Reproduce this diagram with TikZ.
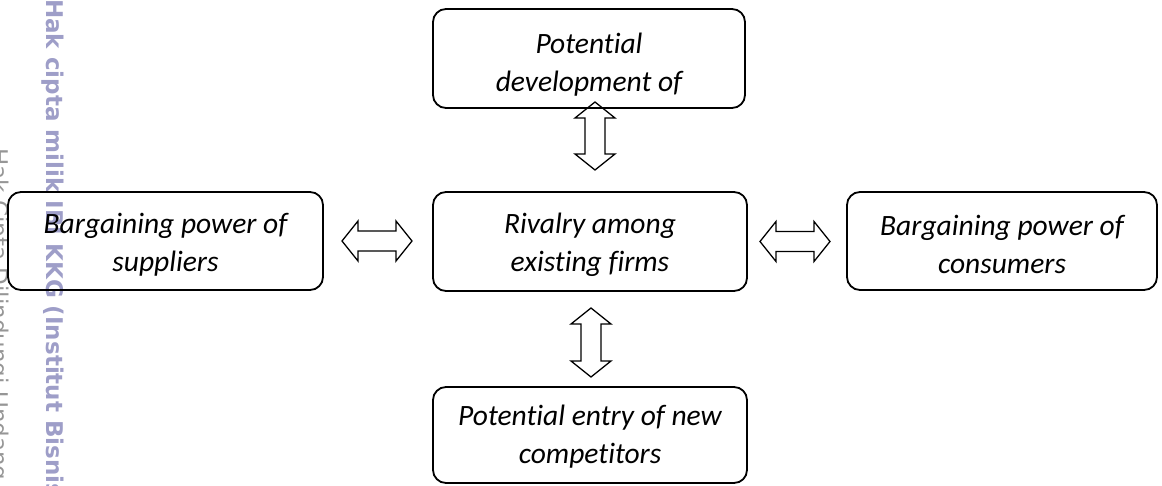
\documentclass[tikz,border=0pt]{standalone}
\usepackage{fontspec}
\setmainfont{Carlito}[Ligatures=NoCommon]
\newfontfamily\wmbold{DejaVu Sans}
\usetikzlibrary{calc}
\definecolor{wmblue}{RGB}{158,158,200}
\definecolor{wmgray}{RGB}{150,150,150}
\newcommand\lift[1]{\rule{0pt}{#1}}
\tikzset{
  forcebox/.style={draw=black, line width=1.8pt, rounded corners=13pt, inner sep=0pt, outer sep=0pt,
    align=center, font=\fontsize{29.5}{38}\selectfont\itshape},
  blockarrow/.style={draw=black, line width=1.3pt, line join=miter}
}
\newcommand\HArrow[2]{\draw[blockarrow] let \p1=#1, \p2=#2 in
  (\x1,\y1) -- (\x1+16pt,\y1+20pt) -- (\x1+16pt,\y1+10pt) -- (\x2-16pt,\y1+10pt) -- (\x2-16pt,\y1+20pt)
  -- (\x2,\y1) -- (\x2-16pt,\y1-20pt) -- (\x2-16pt,\y1-10pt) -- (\x1+16pt,\y1-10pt) -- (\x1+16pt,\y1-20pt) -- cycle;}
\newcommand\VArrow[2]{\draw[blockarrow] let \p1=#1, \p2=#2 in
  (\x1,\y1) -- (\x1+20pt,\y1-16pt) -- (\x1+10pt,\y1-16pt) -- (\x1+10pt,\y2+16pt) -- (\x1+20pt,\y2+16pt)
  -- (\x1,\y2) -- (\x1-20pt,\y2+16pt) -- (\x1-10pt,\y2+16pt) -- (\x1-10pt,\y1-16pt) -- (\x1-20pt,\y1-16pt) -- cycle;}
\begin{document}
\begin{tikzpicture}[x=1pt,y=1pt]
\useasboundingbox (0,0) rectangle (1162,485);
\begin{scope}
\clip (0,0) rectangle (1162,485);
\node[anchor=base west, rotate=-90, inner sep=0pt, text=wmblue, font=\wmbold\bfseries\fontsize{23}{27}\selectfont] (wma) at (46,486) {Hak cipta milik IBI KKG (Institut Bisnis dan Informatika Kwik Kian Gie)};
\node[anchor=base west, rotate=-90, inner sep=0pt, text=wmgray, font=\wmbold\fontsize{23}{27}\selectfont] (wmb) at (-9,337) {Hak Cipta Dilindungi Undang-Undang};
\end{scope}
\node[forcebox, minimum width=312pt, minimum height=99pt] (T) at (589,426.5) {\lift{32pt}Potential\\development of};
\node[forcebox, minimum width=315pt, minimum height=98pt] (L) at (165.5,244) {\lift{27pt}Bargaining power of\\suppliers};
\node[forcebox, minimum width=314pt, minimum height=99pt] (M) at (590,243.5) {\lift{27pt}Rivalry among\\existing firms};
\node[forcebox, minimum width=310pt, minimum height=98pt] (R) at (1002,244) {\lift{27pt}Bargaining power of\\consumers};
\node[forcebox, minimum width=314pt, minimum height=96pt] (B) at (590,50) {\lift{23pt}Potential entry of new\\competitors};
\HArrow{($(L.east)+(19pt,0)$)}{($(M.west)+(-21pt,0)$)}
\HArrow{($(M.east)+(13pt,0)$)}{($(R.west)+(-17pt,0)$)}
\VArrow{($(T.south)+(6pt,6pt)$)}{($(M.north)+(5pt,22pt)$)}
\VArrow{($(M.south)+(1pt,-17pt)$)}{($(B.north)+(1pt,10pt)$)}
\end{tikzpicture}
\end{document}
